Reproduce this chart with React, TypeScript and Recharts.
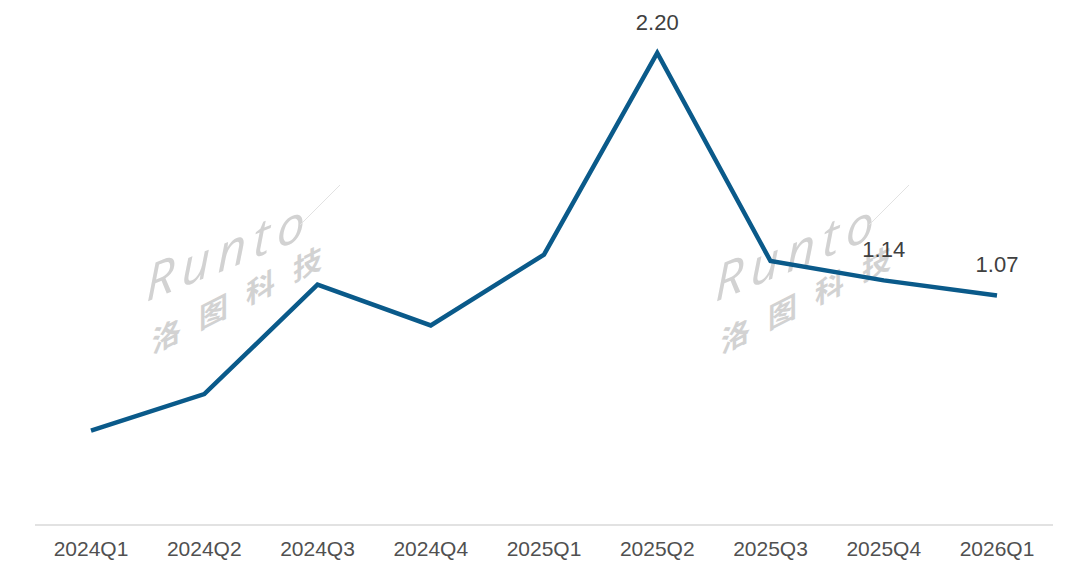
import React from 'react';
import { LineChart, Line, XAxis, YAxis } from 'recharts';

const quarters = ['2024Q1', '2024Q2', '2024Q3', '2024Q4', '2025Q1', '2025Q2', '2025Q3', '2025Q4', '2026Q1'];
const values = [0.44, 0.61, 1.12, 0.93, 1.26, 2.2, 1.23, 1.14, 1.07];
const labeledQuarters = ['2025Q2', '2025Q4', '2026Q1'];
const watermarkOffsets = [0, 569];

const data = quarters.map((q, i) => ({ quarter: q, value: values[i] }));

const FONT = '"Liberation Sans", Arial, sans-serif';

const renderLabel = (props: any) => {
  const { x, y, value, index } = props;
  if (!labeledQuarters.includes(quarters[index])) return null;
  return (
    <text
      key={`lbl-${index}`}
      x={x}
      y={y - 23}
      textAnchor="middle"
      fill="#404040"
      fontSize={22}
      fontFamily={FONT}
    >
      {Number(value).toFixed(2)}
    </text>
  );
};

const Watermark = ({ dx }: { dx: number }) => (
  <g fill="#d2d2d2">
    <g transform={`translate(${146 + dx},302) skewY(-22)`}>
      <text x={0} y={0} fontSize={50} fontStyle="italic" fontWeight={400} letterSpacing={7} fontFamily='"Open Sans", sans-serif'>
        Runto
      </text>
    </g>
    <g transform={`translate(${152 + dx},354) skewY(-27)`}>
      <text x={0} y={0} fontSize={29} fontWeight={700} letterSpacing={18} fontFamily='"Noto Sans CJK SC", sans-serif'>
        洛图科技
      </text>
    </g>
    <line x1={300 + dx} y1={225} x2={340 + dx} y2={185} stroke="#e2e2e2" strokeWidth={1} />
  </g>
);

export default function App() {
  return (
    <div style={{ position: 'absolute', left: 0, top: 0, width: 1080, height: 561, background: '#ffffff' }}>
      <svg width={1080} height={561} style={{ position: 'absolute', left: 0, top: 0 }}>
        {watermarkOffsets.map((dx) => (
          <Watermark key={dx} dx={dx} />
        ))}
      </svg>
      <div style={{ position: 'absolute', left: 0, top: 0 }}>
        <LineChart width={1080} height={561} data={data} margin={{ top: 10, right: 27, left: 35, bottom: 6 }}>
          <XAxis
            dataKey="quarter"
            padding={{ left: 56, right: 56 }}
            axisLine={{ stroke: '#d9d9d9', strokeWidth: 1.5 }}
            tickLine={false}
            tickMargin={10}
            height={30}
            interval={0}
            tick={{ fill: '#505050', fontSize: 21, fontFamily: FONT }}
          />
          <YAxis hide domain={[0, 2.4]} />
          <Line
            type="linear"
            dataKey="value"
            stroke="#0a5a8a"
            strokeWidth={4.5}
            dot={false}
            activeDot={false}
            isAnimationActive={false}
            label={renderLabel}
          />
        </LineChart>
      </div>
    </div>
  );
}
